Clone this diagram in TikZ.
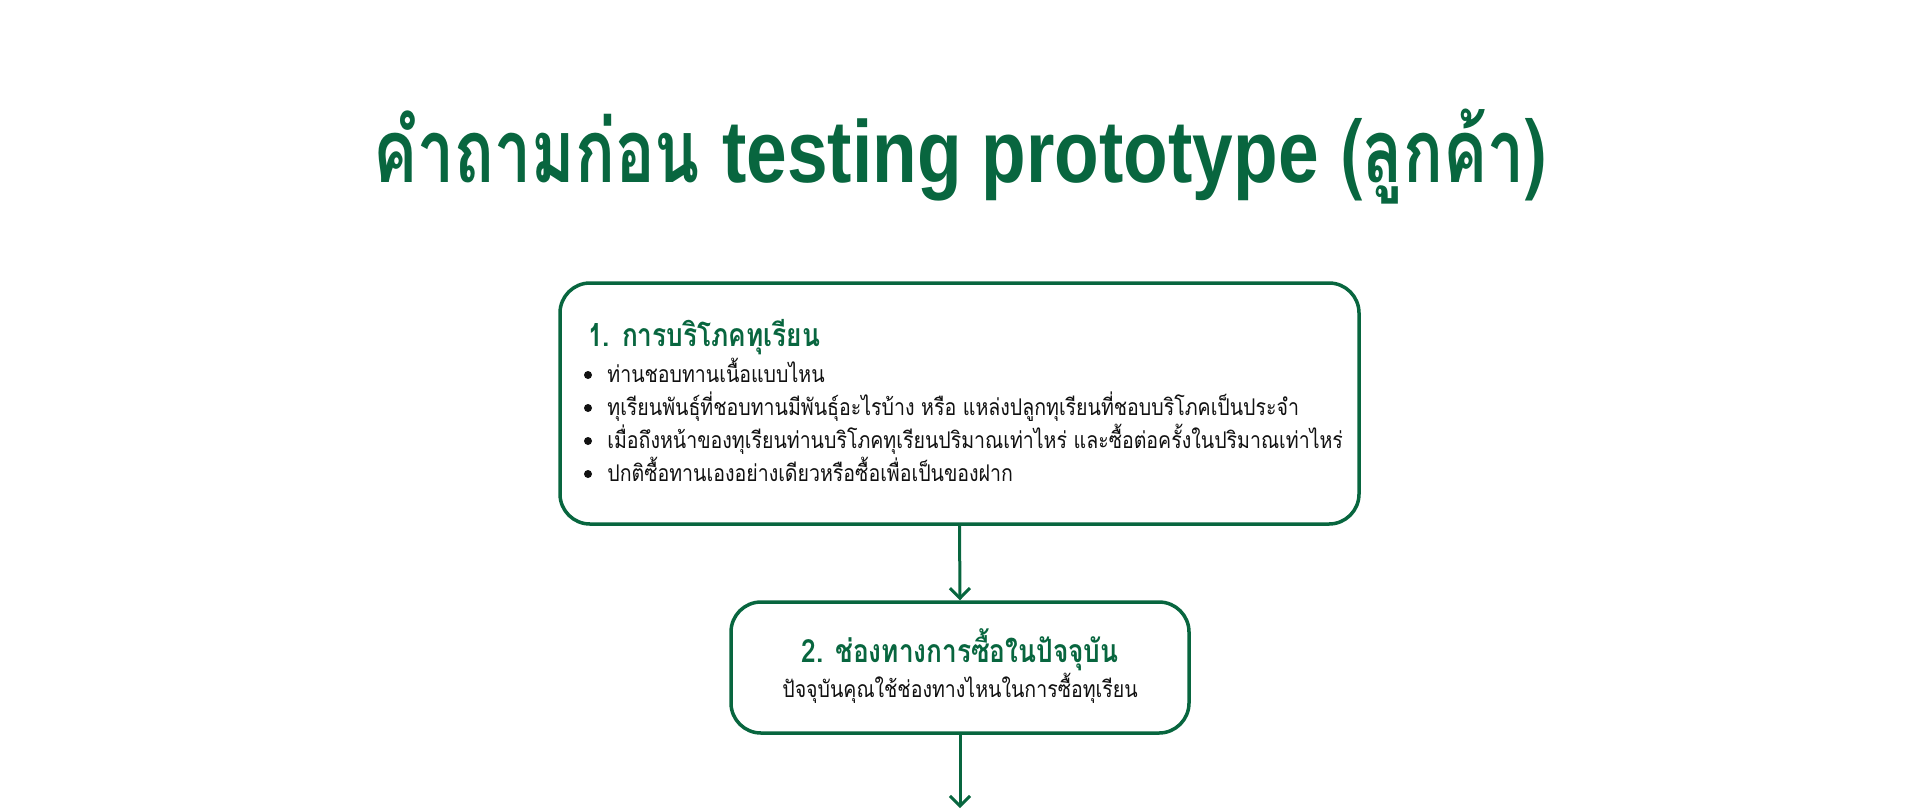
\documentclass[tikz,border=0pt]{standalone}
\usepackage{fontspec}
\usetikzlibrary{arrows.meta}
\newfontfamily\thaiT[Script=Thai, FakeStretch=0.75]{Loma}
\newfontfamily\latT[FakeStretch=0.83]{Liberation Sans}
\newfontfamily\thaiH[Script=Thai, FakeStretch=0.82]{Loma}
\newfontfamily\thaiB[Script=Thai, FakeStretch=0.85]{Loma}
\definecolor{dgreen}{HTML}{08663F}
\definecolor{ink}{HTML}{111111}
\tikzset{
  box/.style={draw=dgreen, line width=1.75pt, rounded corners=15pt, fill=white},
  ttl/.style={text=dgreen, font=\thaiT\bfseries\fontsize{44}{50}\selectfont, anchor=base, inner sep=0pt},
  head/.style={text=dgreen, font=\thaiH\bfseries\fontsize{16}{19}\selectfont, inner sep=0pt},
  body/.style={text=ink, font=\thaiB\fontsize{11.5}{14}\selectfont, inner sep=0pt},
  dot/.style={circle, fill=ink, inner sep=0pt, minimum size=4pt},
  arr/.style={draw=dgreen, line width=1.5pt, -{Straight Barb[length=5pt,width=10pt,line width=1.5pt]}}
}
\begin{document}
\begin{tikzpicture}[x=0.5pt,y=-0.5pt]
\useasboundingbox (0,0) rectangle (1906,810);
\node[ttl] (title) at (960,182) {คำถามก่อน {\latT testing prototype} (ลูกค้า)};
\node[box, minimum width=399.5pt, minimum height=120.5pt] (b1) at (959.5,403.5) {};
\node[head, anchor=base west] (h1) at (588,346) {1. การบริโภคทุเรียน};
\foreach \t [count=\i] in {ท่านชอบทานเนื้อแบบไหน,
  ทุเรียนพันธุ์ที่ชอบทานมีพันธุ์อะไรบ้าง หรือ แหล่งปลูกทุเรียนที่ชอบบริโภคเป็นประจำ,
  เมื่อถึงหน้าของทุเรียนท่านบริโภคทุเรียนปริมาณเท่าไหร่ และซื้อต่อครั้งในปริมาณเท่าไหร่,
  ปกติซื้อทานเองอย่างเดียวหรือซื้อเพื่อเป็นของฝาก}{
  \node[dot] (bu\i) at (588,{382+33*(\i-1)-7}) {};
  \node[body, anchor=base west] (l\i) at (607,{382+33*(\i-1)}) {\t};
}
\node[box, minimum width=229pt, minimum height=65.5pt] (b2) at (960,667.5) {};
\node[head, anchor=base] (h2) at (960,662) {2. ช่องทางการซื้อในปัจจุบัน};
\node[body, anchor=base] (s2) at (960,697) {ปัจจุบันคุณใช้ช่องทางไหนในการซื้อทุเรียน};
\coordinate (end) at (960,808);
\draw[arr] (b1.south) -- (b2.north);
\draw[arr] (b2.south) -- (end);
\end{tikzpicture}
\end{document}
